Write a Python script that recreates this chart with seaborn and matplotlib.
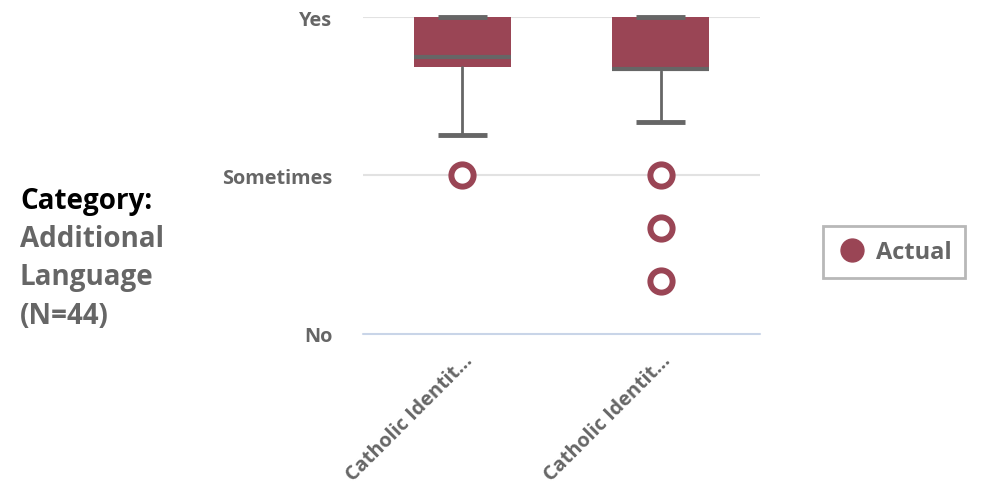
import numpy as np
import pandas as pd
import matplotlib.pyplot as plt
import seaborn as sns
from matplotlib.lines import Line2D

# values (No=0, Sometimes=1, Yes=2)
categories = ["Catholic Identit...", "Catholic Identit..."]
q1 = [1.684, 1.658]
median = [1.747, 1.670]
q3 = [2.0, 2.0]
whisker_low = [1.253, 1.335]
whisker_high = [2.0, 2.0]
outliers = [[1.0], [1.0, 0.665, 0.329]]
y_ticks = [0, 1, 2]
y_labels = ["No", "Sometimes", "Yes"]
category_title = "Category:"
category_name = ["Additional", "Language", "(N=44)"]

sns.set_style("white")
plt.rcParams['font.family'] = ['Open Sans', 'DejaVu Sans']

maroon = "#9A4555"
grey = "#666666"

stats = []
for i, cat in enumerate(categories):
    stats.append(dict(label=cat, med=median[i], q1=q1[i], q3=q3[i],
                      whislo=whisker_low[i], whishi=whisker_high[i],
                      fliers=outliers[i]))

fig = plt.figure(figsize=(9.91, 4.85), dpi=100)
ax = fig.add_axes([363/991, 1 - 334.5/485, 397/991, 316.5/485])

ax.bxp(stats, positions=range(len(categories)), widths=0.49, patch_artist=True,
       boxprops=dict(facecolor=maroon, edgecolor=maroon, linewidth=0),
       medianprops=dict(color=grey, linewidth=3, solid_capstyle='butt'),
       whiskerprops=dict(color=grey, linewidth=2),
       capprops=dict(color=grey, linewidth=3.5, solid_capstyle='butt'),
       capwidths=0.245,
       flierprops=dict(marker='o', markersize=16, markerfacecolor='white',
                       markeredgecolor=maroon, markeredgewidth=4.3),
       zorder=3)
for a in ax.get_children():
    if hasattr(a, 'set_clip_on'):
        a.set_clip_on(False)

ax.set_xlim(-0.5, len(categories) - 0.5)
ax.set_ylim(0, 2)
ax.set_yticks(y_ticks)
ax.set_yticklabels(y_labels)
ax.set_xticks(range(len(categories)))
ax.set_xticklabels(categories, rotation=45, ha='right', rotation_mode='anchor')

for y in [1, 2]:
    ax.axhline(y, color='#E2E2E2', linewidth=1.5, zorder=1)
ax.axhline(0, color='#C9D5E8', linewidth=1.5, zorder=1, clip_on=False)

for s in ax.spines.values():
    s.set_visible(False)
ax.tick_params(axis='both', length=0, colors=grey, labelsize=14.3)
ax.tick_params(axis='y', pad=22)
ax.tick_params(axis='x', pad=12)
for t in ax.get_xticklabels() + ax.get_yticklabels():
    t.set_fontweight('bold')
    t.set_color(grey)

fig.text(20/991, 1 - 201/485, category_title, fontsize=20, fontweight='bold',
         color='black', va='center', ha='left')
for line, ypx in zip(category_name, [240, 278, 317]):
    fig.text(20/991, 1 - ypx/485, line, fontsize=20, fontweight='bold',
             color=grey, va='center', ha='left')

handle = Line2D([], [], marker='o', linestyle='none', markersize=16.5,
                markerfacecolor=maroon, markeredgecolor=maroon)
leg = fig.legend([handle], ["Actual"], loc='center', bbox_to_anchor=(894/991, 1 - 253/485),
                 frameon=True, fancybox=False, fontsize=17, handletextpad=0.35,
                 borderpad=0.6, handlelength=1.3, borderaxespad=0)
leg.get_frame().set_edgecolor('#A6A6A6')
leg.get_frame().set_linewidth(2)
for t in leg.get_texts():
    t.set_fontweight('bold')
    t.set_color(grey)

fig.savefig("out.png", dpi=100)
